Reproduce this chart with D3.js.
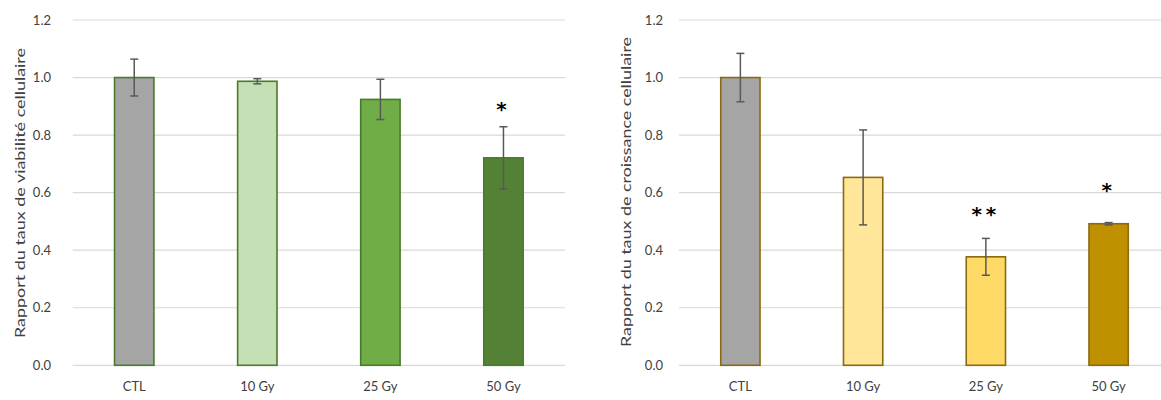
<!DOCTYPE html>
<html><head><meta charset="utf-8">
<script src="https://cdn.jsdelivr.net/npm/d3@7"></script>
<style>body{margin:0;background:#fff;} svg{display:block;font-family:Lato, "Open Sans", sans-serif;}</style>
</head><body>
<svg id="c" width="1161" height="400"></svg>
<script>
const categories = ["CTL", "10 Gy", "25 Gy", "50 Gy"];
const viabilityValues = [1.0, 0.987, 0.924, 0.721];
const viabilityErrors = [0.064, 0.009, 0.07, 0.108];
const viabilitySig = ["", "", "", "*"];
const viabilitySigLevel = [0, 0, 0, 0.905];
const viabilityColors = ["#a5a5a5", "#c5e0b4", "#70ad47", "#538135"];
const growthValues = [1.0, 0.653, 0.377, 0.492];
const growthErrors = [0.084, 0.165, 0.064, 0.004];
const growthSig = ["", "", "**", "*"];
const growthSigLevel = [0, 0, 0.54, 0.623];
const growthColors = ["#a5a5a5", "#ffe699", "#ffd966", "#bf9000"];
const yTicks = [0, 0.2, 0.4, 0.6, 0.8, 1.0, 1.2];

const svg = d3.select("#c");

function panel(opts) {
  const g = svg.append("g");
  const x = d3.scaleBand().domain(categories).range([opts.x0, opts.x1]).paddingInner(0.68).paddingOuter(0.34);
  const y = d3.scaleLinear().domain([0, 1.2]).range([365.3, 20]);
  g.selectAll("line.grid").data(yTicks).join("line")
    .attr("x1", opts.x0).attr("x2", opts.x1)
    .attr("y1", d => y(d)).attr("y2", d => y(d))
    .attr("stroke", "#d9d9d9").attr("stroke-width", 1.2);
  const ya = d3.axisLeft(y).tickValues(yTicks).tickFormat(d3.format(".1f")).tickSize(0).tickPadding(0);
  const yg = g.append("g").attr("transform", `translate(${opts.labelX},0)`).call(ya);
  yg.select(".domain").remove();
  yg.selectAll("text").attr("font-size", 13).attr("fill", "#404040").attr("font-family", "Lato, sans-serif");
  const xa = d3.axisBottom(x).tickSize(0).tickPadding(0);
  const xg = g.append("g").attr("transform", `translate(0,382)`).call(xa);
  xg.select(".domain").remove();
  xg.selectAll("text").attr("font-size", 13).attr("fill", "#404040").attr("font-family", "Lato, sans-serif");
  g.selectAll("rect.bar").data(categories).join("rect")
    .attr("x", d => x(d)).attr("width", x.bandwidth())
    .attr("y", (d, i) => y(opts.values[i])).attr("height", (d, i) => y(0) - y(opts.values[i]))
    .attr("fill", (d, i) => opts.colors[i]).attr("stroke", opts.stroke).attr("stroke-width", 1.6);
  const eg = g.selectAll("g.err").data(categories).join("g").attr("stroke", "#595959").attr("stroke-width", 1.5);
  const cx = d => x(d) + x.bandwidth() / 2;
  eg.append("line").attr("x1", cx).attr("x2", cx)
    .attr("y1", (d, i) => y(opts.values[i] + opts.errors[i])).attr("y2", (d, i) => y(opts.values[i] - opts.errors[i]));
  eg.append("line").attr("x1", d => cx(d) - 4).attr("x2", d => cx(d) + 4)
    .attr("y1", (d, i) => y(opts.values[i] + opts.errors[i])).attr("y2", (d, i) => y(opts.values[i] + opts.errors[i]));
  eg.append("line").attr("x1", d => cx(d) - 4).attr("x2", d => cx(d) + 4)
    .attr("y1", (d, i) => y(opts.values[i] - opts.errors[i])).attr("y2", (d, i) => y(opts.values[i] - opts.errors[i]));
  g.selectAll("text.sig").data(categories).join("text")
    .attr("x", cx)
    .attr("y", (d, i) => y(opts.sigLevel[i]) + 11)
    .attr("text-anchor", "middle").attr("font-size", 20).attr("font-weight", "bold")
    .attr("font-family", "DejaVu Sans, sans-serif").attr("letter-spacing", 4)
    .attr("fill", "#000").text((d, i) => opts.sig[i]);
  g.append("text").attr("transform", `translate(${opts.titleX},${opts.titleY}) rotate(-90)`)
    .attr("text-anchor", "middle").attr("dominant-baseline", "central")
    .attr("font-size", 14).attr("fill", "#404040")
    .attr("textLength", opts.titleLen).attr("lengthAdjust", "spacingAndGlyphs")
    .text(opts.title);
}

panel({x0: 72.7, x1: 565, labelX: 51, titleX: 19, titleY: 193, titleLen: 290, values: viabilityValues, errors: viabilityErrors,
  sig: viabilitySig, sigLevel: viabilitySigLevel, colors: viabilityColors, stroke: "#4a7a2a", title: "Rapport du taux de viabilité cellulaire"});
panel({x0: 679, x1: 1170, labelX: 663, titleX: 625, titleY: 192, titleLen: 310, values: growthValues, errors: growthErrors,
  sig: growthSig, sigLevel: growthSigLevel, colors: growthColors, stroke: "#8a6a10", title: "Rapport du taux de croissance cellulaire"});
</script>
</body></html>
